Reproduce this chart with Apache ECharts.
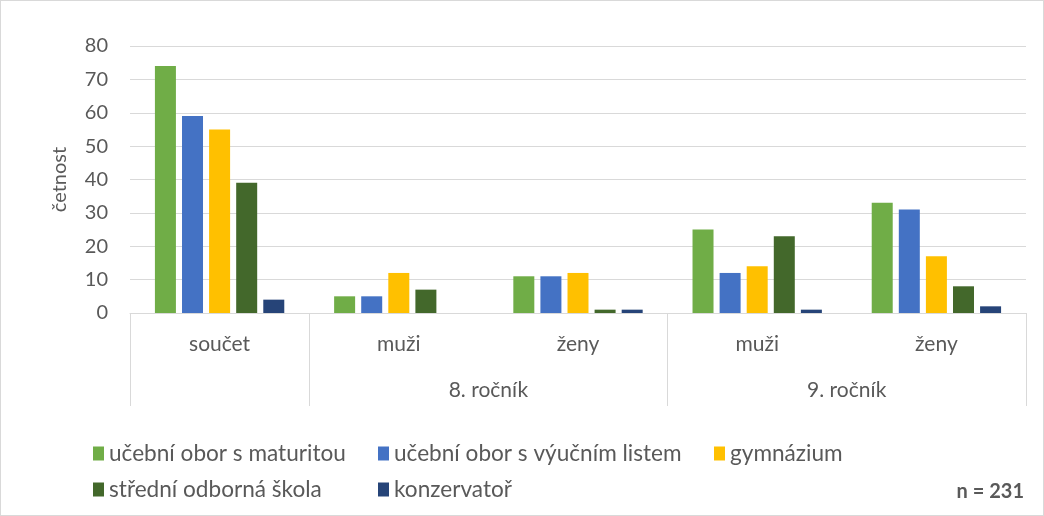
<!DOCTYPE html>
<html>
<head>
<meta charset="utf-8">
<script src="https://cdn.jsdelivr.net/npm/echarts@6/dist/echarts.min.js"></script>
<style>
  html, body { margin: 0; padding: 0; background: #fff; }
  #chart { width: 1044px; height: 516px; box-sizing: border-box; border: 1px solid #d9d9d9; }
</style>
</head>
<body>
<div id="chart"></div>
<script>
// kategorie (1. úroveň) a skupiny (2. úroveň)
const categories = ["součet", "muži", "ženy", "muži", "ženy"];
const groupLabels = ["", "", "", "", "8. ročník", "", "", "", "9. ročník", "", ""];
const groupTicks = [0, 2, 6, 10];

const seriesNames = [
  "učební obor s maturitou",
  "učební obor s výučním listem",
  "gymnázium",
  "střední odborná škola",
  "konzervatoř",
];
const maturita = [74, 5, 11, 25, 33];
const vyucni = [59, 5, 11, 12, 31];
const gymnazium = [55, 12, 12, 14, 17];
const sos = [39, 7, 1, 23, 8];
const konzervator = [4, 0, 1, 1, 2];
const yTicks = { min: 0, max: 80, interval: 10 };

const colors = ["#70AD47", "#4472C4", "#FFC000", "#43682B", "#264478"];
const font = "Lato, 'Noto Sans', sans-serif";
const textColor = "#595959";

let chart = echarts.init(document.getElementById("chart"));

const values = [maturita, vyucni, gymnazium, sos, konzervator];

function legendColumn(left, names) {
  return {
    left: left,
    top: 441,
    padding: 0,
    orient: "vertical",
    itemWidth: 11,
    itemHeight: 14,
    itemGap: 13,
    icon: "rect",
    data: names,
    textStyle: { fontSize: 22.6, lineHeight: 23, color: textColor, fontFamily: font },
  };
}

const option = {
  animation: false,
  color: colors,
  textStyle: { fontFamily: font },
  grid: {
    left: 129,
    right: 17,
    top: 45,
    bottom: 202,
  },
  title: {
    text: "n = 231",
    right: 14,
    top: 476,
    textStyle: { fontSize: 20, fontWeight: "bold", color: textColor, fontFamily: font },
  },
  legend: [
    legendColumn(92, [seriesNames[0], seriesNames[3]]),
    legendColumn(377, [seriesNames[1], seriesNames[4]]),
    legendColumn(713, [seriesNames[2]]),
  ],
  xAxis: [
    {
      type: "category",
      data: categories,
      position: "bottom",
      axisLine: { lineStyle: { color: "#d9d9d9", width: 1 } },
      axisTick: { show: false },
      axisLabel: { color: textColor, fontSize: 21, margin: 21, interval: 0 },
    },
    {
      type: "category",
      data: groupLabels,
      position: "bottom",
      boundaryGap: false,
      axisLine: { show: false },
      axisTick: {
        show: true,
        length: 93,
        interval: function (index) {
          return groupTicks.indexOf(index) >= 0;
        },
        lineStyle: { color: "#d9d9d9", width: 1 },
      },
      axisLabel: { color: textColor, fontSize: 21, margin: 67, interval: 0 },
    },
  ],
  yAxis: {
    type: "value",
    min: yTicks.min,
    max: yTicks.max,
    interval: yTicks.interval,
    name: "četnost",
    nameLocation: "middle",
    nameGap: 60,
    nameRotate: 90,
    nameTextStyle: { color: textColor, fontSize: 20, fontFamily: font },
    axisLine: { show: false },
    axisTick: { show: false },
    axisLabel: { color: textColor, fontSize: 20, margin: 22 },
    splitLine: { lineStyle: { color: "#d9d9d9", width: 1 } },
  },
  series: seriesNames.map((name, i) => ({
    name: name,
    type: "bar",
    xAxisIndex: 0,
    data: values[i],
    barWidth: 21,
    barGap: "29%",
    itemStyle: { color: colors[i] },
  })),
};

chart.setOption(option);
</script>
</body>
</html>
